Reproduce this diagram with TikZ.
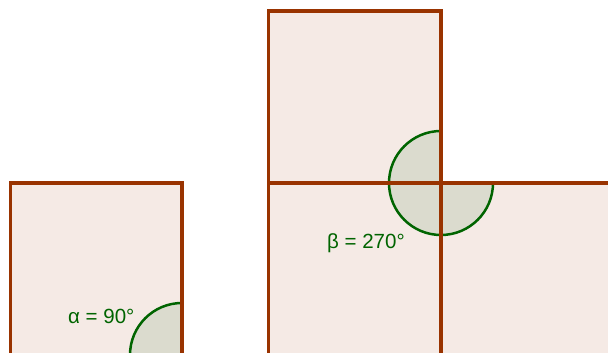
\documentclass[tikz,border=0pt]{standalone}
\usepackage{fontspec}
\setmainfont{Liberation Sans}
\definecolor{edge}{RGB}{153,51,0}
\definecolor{sqfill}{RGB}{245,234,229}
\definecolor{angc}{RGB}{0,100,0}
\definecolor{angfill}{RGB}{219,219,206}
\tikzset{
  sq/.style={fill=sqfill},
  sqedge/.style={draw=edge,line width=3.4pt},
  angsector/.style={fill=angfill},
  angarc/.style={draw=angc,line width=2.5pt},
  lbl/.style={text=angc,font=\fontsize{20.5}{23}\selectfont,inner sep=0pt,anchor=base west}
}
\begin{document}
\begin{tikzpicture}[x=1pt,y=1pt]
\useasboundingbox (0,0) rectangle (608,353);
\clip (0,0) rectangle (608,353);
% fills
\fill[sq] (10.5,-2) rectangle (182,170);
\fill[sq] (268.5,170) rectangle (441,342);
\fill[sq] (268.5,-2) rectangle (441,170);
\fill[sq] (441,-2) rectangle (615,170);
% angle alpha
\coordinate (A) at (182,-2);
\fill[angsector] (A) -- (130,-2) arc[start angle=180,end angle=90,radius=52] -- cycle;
\draw[angarc] (130,-2) arc[start angle=180,end angle=90,radius=52];
% angle beta
\coordinate (B) at (441,170);
\fill[angsector] (B) -- (441,222) arc[start angle=90,end angle=360,radius=52] -- cycle;
\draw[angarc] (441,222) arc[start angle=90,end angle=360,radius=52];
% edges
\draw[sqedge] (10.5,-8) -- (10.5,170) -- (182,170) -- (182,-8);
\draw[sqedge] (268.5,-8) -- (268.5,342) -- (441,342) -- (441,-8);
\draw[sqedge] (268.5,170) -- (615,170);
% labels
\node[lbl] (alpha) at (68,29) {α = 90°};
\node[lbl] (beta) at (327,104) {β = 270°};
\end{tikzpicture}
\end{document}
